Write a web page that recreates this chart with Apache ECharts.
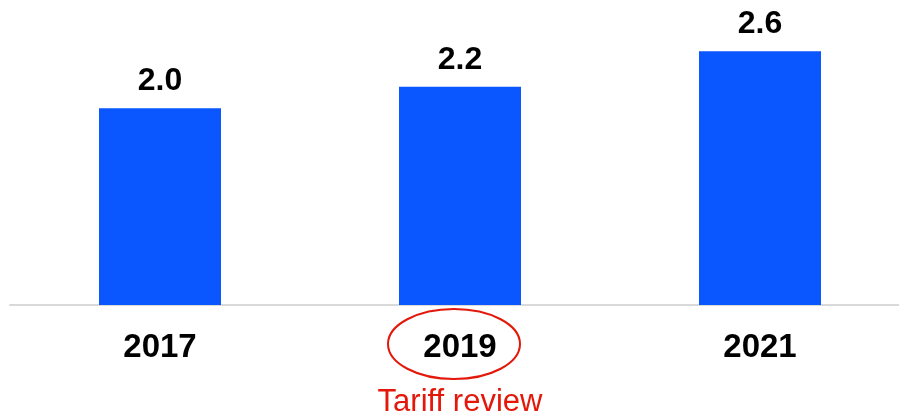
<!DOCTYPE html>
<html>
<head>
<meta charset="utf-8">
<script src="https://cdn.jsdelivr.net/npm/echarts@6/dist/echarts.min.js"></script>
<style>
  html, body { margin: 0; padding: 0; background: #fff; }
  #chart { width: 899px; height: 415px; }
</style>
</head>
<body>
<div id="chart"></div>
<script>
// data (labels shown to one decimal)
var years = ['2017', '2019', '2021'];
var values = [2.0, 2.22, 2.58];
var notes = { '2019': 'Tariff review' };

var myChart = echarts.init(document.getElementById('chart'));
var option = {
  animation: false,
  grid: { left: 10, width: 900, top: 10, bottom: 110, outerBoundsMode: 'none', containLabel: false },
  xAxis: {
    type: 'category',
    data: years,
    axisLine: { lineStyle: { color: '#d9d9d9', width: 2 } },
    axisTick: { show: false },
    axisLabel: {
      margin: 25,
      formatter: function (v) {
        return notes[v] ? '{yr|' + v + '}\n{note|' + notes[v] + '}' : '{yr|' + v + '}';
      },
      rich: {
        yr: { fontFamily: 'Liberation Sans', fontSize: 33, fontWeight: 'bold', color: '#000', lineHeight: 36 },
        note: { fontFamily: 'Liberation Sans', fontSize: 31, color: '#e3170a', lineHeight: 72 }
      }
    }
  },
  yAxis: {
    type: 'value',
    min: 0,
    max: 3,
    show: false,
    splitLine: { show: false }
  },
  series: [{
    type: 'bar',
    data: values,
    barWidth: 122,
    itemStyle: { color: '#0a56ff' },
    label: {
      show: true,
      position: 'top',
      distance: 11,
      formatter: function (p) { return p.value.toFixed(1); },
      fontFamily: 'Liberation Sans',
      fontSize: 32,
      fontWeight: 'bold',
      color: '#000'
    }
  }]
};
myChart.setOption(option);

// red ellipse round the noted year
var pt = myChart.convertToPixel({ xAxisIndex: 0 }, '2019');
myChart.setOption({
  graphic: [{
    type: 'ellipse',
    shape: { cx: pt - 6, cy: 344, rx: 66, ry: 35 },
    style: { fill: 'none', stroke: '#e3170a', lineWidth: 2 }
  }]
});
</script>
</body>
</html>
